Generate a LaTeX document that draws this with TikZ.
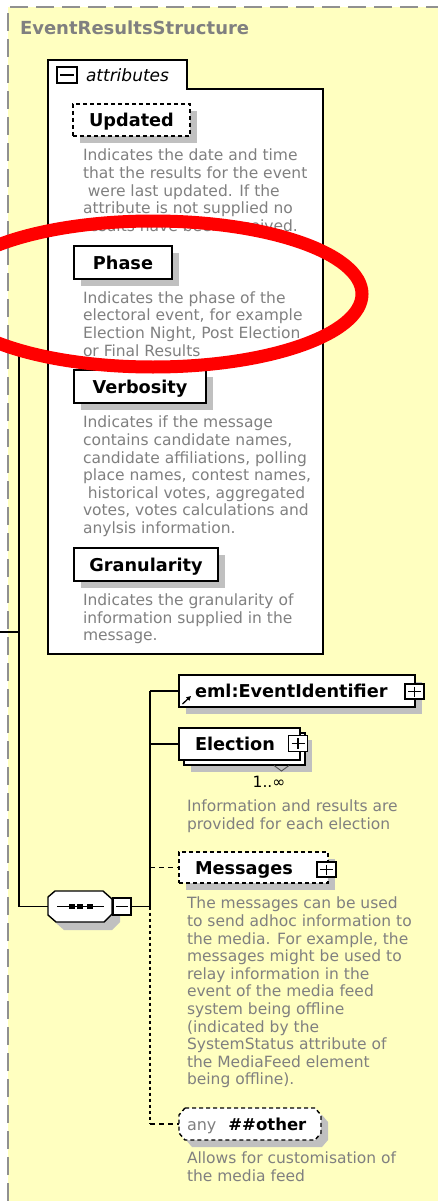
\documentclass[tikz,border=0pt]{standalone}
\usepackage{fontspec}
\setmainfont{DejaVu Sans}
\usetikzlibrary{shadows,arrows.meta}
\definecolor{bgy}{HTML}{FFFFC0}
\definecolor{txtgray}{HTML}{808080}
\definecolor{shgray}{HTML}{C0C0C0}
\definecolor{dashgray}{HTML}{909090}
\definecolor{hilite}{HTML}{FF0000}
\begin{document}
\begin{tikzpicture}[x=1pt,y=-1pt,
  every node/.style={inner sep=0pt, outer sep=0pt},
  lbl/.style={font=\fontsize{17.7}{20}\selectfont\bfseries, text height=13pt, text depth=0pt},
  shad/.style={general shadow={fill=shgray, draw=none, shadow xshift=7pt, shadow yshift=-7pt}},
  elem/.style={draw=black, line width=1.4pt, fill=white, anchor=north west, lbl},
  optdash/.style={dash pattern=on 4pt off 3pt},
  desc/.style={anchor=north west, align=left, text=txtgray, font=\fontsize{15.5}{17.6}\selectfont},
  pmbox/.style={draw=black, line width=1.2pt, fill=white, minimum width=19pt, minimum height=15pt},
  plusbox/.style={pmbox, path picture={
      \draw[line width=1.1pt] ([xshift=3pt]path picture bounding box.west) -- ([xshift=-3pt]path picture bounding box.east);
      \draw[line width=1.1pt] ([yshift=-2.5pt]path picture bounding box.north) -- ([yshift=2.5pt]path picture bounding box.south);}},
  minusbox/.style={pmbox, path picture={
      \draw[line width=1.1pt] ([xshift=3pt]path picture bounding box.west) -- ([xshift=-3pt]path picture bounding box.east);}},
  conn/.style={draw=black, line width=1.4pt},
  optconn/.style={conn, dash pattern=on 5pt off 4pt},
  dotconn/.style={conn, dash pattern=on 3pt off 3pt},
  octo/.style={draw=black, line width=1.4pt, fill=white},
  octoshadow/.style={fill=shgray}
]
\useasboundingbox (0,0) rectangle (438,1201);
% background
\fill[white] (0,0) rectangle (438,1201);
\fill[bgy] (8,7) rectangle (438,1201);
\draw[dashgray, line width=1.5pt, dash pattern=on 18pt off 8pt] (8,1201) -- (8,7) -- (438,7);

\node[anchor=base west, text=txtgray, font=\fontsize{18}{20}\selectfont\bfseries] (title) at (20,34.5) {EventResultsStructure};

% attributes box
\draw[line width=1.5pt, fill=white] (48,89) -- (48,60) -- (187,60) -- (187,89) -- (323,89) -- (323,654) -- (48,654) -- cycle;
\node[minusbox, minimum width=20pt, minimum height=16pt] (attrminus) at (67,75) {};
\node[anchor=base west, font=\fontsize{17}{20}\selectfont\itshape] (attrlbl) at (86,81.5) {attributes};

\node[elem, shad, optdash, minimum width=117pt, minimum height=32pt] (upd) at (73,104) {Updated};
\node[desc] (upddesc) at (83,149.2) {Indicates the date and time\\that the results for the event\\\hspace*{4.8pt}were last updated. If the\\attribute is not supplied no\\results have been received.};

\node[elem, shad, minimum width=98pt, minimum height=33pt] (phase) at (74,246) {Phase};
\node[desc] (phasedesc) at (83,291.5) {Indicates the phase of the\\electoral event, for example\\Election Night, Post Election\\or Final Results};

\node[elem, shad, minimum width=132pt, minimum height=33pt] (verb) at (74,370) {Verbosity};
\node[desc] (verbdesc) at (83,416.2) {Indicates if the message\\contains candidate names,\\candidate affiliations, polling\\place names, contest names,\\\hspace*{4.8pt}historical votes, aggregated\\votes, votes calculations and\\anylsis information.};

\node[elem, shad, minimum width=144pt, minimum height=33pt] (gran) at (74,548) {Granularity};
\node[desc] (grandesc) at (83,593.9) {Indicates the granularity of\\information supplied in the\\message.};

% left connector
\coordinate (lt) at (19,350);
\coordinate (lj) at (19,632);
\coordinate (lin) at (0,632);
\coordinate (lb) at (19,906.5);
\draw[conn] (lin) -- (lj);

% sequence compositor
\fill[octoshadow, shift={(8,8)}] (48,897) -- (55,891) -- (103,891) -- (112,899) -- (112,914) -- (104,922) -- (56,922) -- (48,915) -- cycle;
\draw[octo] (48,897) -- (55,891) -- (103,891) -- (112,899) -- (112,914) -- (104,922) -- (56,922) -- (48,915) -- cycle;
\node[minimum width=64pt, minimum height=31pt] (seq) at (80,906.5) {};
\draw[line width=1.2pt] (57,906.5) -- (104,906.5);
\fill (68.5,904) rectangle (74.5,909);
\fill (77,904) rectangle (83,909);
\fill (86.5,904) rectangle (92.5,909);
\node[minusbox, minimum width=18pt, minimum height=17pt] (seqminus) at (122,906.5) {};
\draw[conn] (lt) -- (lb) -- (seq.west);

\coordinate (bus) at (150,906.5);
\coordinate (b1) at (150,691);
\coordinate (b2) at (150,744);
\coordinate (b3) at (150,867.5);
\coordinate (b4) at (150,1124);
\draw[conn] (seqminus.east) -- (bus);
\draw[conn] (b1) -- (bus);
\draw[dotconn] (bus) -- (b4);

% EventIdentifier
\node[elem, shad, minimum width=236pt, minimum height=32pt] (evid) at (179,675) {};
\node[lbl, anchor=west] (evidlbl) at ([xshift=16pt]evid.west) {eml:EventIdentifier};
\draw[line width=1.3pt, -{Triangle[length=4.5pt,width=4.5pt]}] (182.5,704) -- (191,696);
\node[plusbox] (evidplus) at (414.5,691.5) {};
\draw[conn] (b1) -- (evid.west);

% Election
\node[elem, shad, minimum width=121pt, minimum height=32pt] (elecb) at (184,733) {};
\node[elem, minimum width=121pt, minimum height=32pt] (elecf) at (179,728) {};
\node[lbl, anchor=west] (eleclbl) at ([xshift=16pt]elecf.west) {Election};
\node[plusbox, minimum height=16pt] (elecplus) at (298,743.5) {};
\draw[line width=0.9pt, black!70] (274,765.5) -- (281.5,771) -- (289,765.5);
\node[anchor=base, font=\fontsize{15.5}{17}\selectfont] (mult) at (269,787) {1..∞};
\node[desc] (elecdesc) at (187,799.9) {Information and results are\\provided for each election};
\draw[conn] (b2) -- (elecf.west);

% Messages
\node[elem, shad, optdash, minimum width=149pt, minimum height=31pt] (msg) at (179,852) {};
\node[lbl, anchor=west] (msglbl) at ([xshift=16pt]msg.west) {Messages};
\node[plusbox] (msgplus) at (326.5,869.5) {};
\node[desc] (msgdesc) at (187,897.2) {The messages can be used\\to send adhoc information to\\the media. For example, the\\messages might be used to\\relay information in the\\event of the media feed\\system being offline\\(indicated by the\\SystemStatus attribute of\\the MediaFeed element\\being offline).};
\draw[optconn] (b3) -- (msg.west);

% any
\fill[octoshadow, shift={(7,7)}] (185,1108) -- (315,1108) -- (321,1115) -- (321,1133) -- (315,1140) -- (185,1140) -- (179,1133) -- (179,1115) -- cycle;
\draw[octo, optdash] (185,1108) -- (315,1108) -- (321,1115) -- (321,1133) -- (315,1140) -- (185,1140) -- (179,1133) -- (179,1115) -- cycle;
\node[minimum width=142pt, minimum height=32pt] (anyel) at (250,1124) {};
\node[anchor=west, text height=12pt, text depth=0pt] (anylbl) at (187,1124) {{\color{txtgray}\fontsize{16}{18}\selectfont any}\hspace{12pt}{\fontsize{16.5}{18}\selectfont\bfseries \#\#other}};
\node[desc] (anydesc) at (187,1152.2) {Allows for customisation of\\the media feed};
\draw[optconn] (b4) -- (anyel.west);

% red highlight
\draw[hilite, line width=13pt] (153,294) ellipse [x radius=209pt, y radius=73pt];
\end{tikzpicture}
\end{document}
